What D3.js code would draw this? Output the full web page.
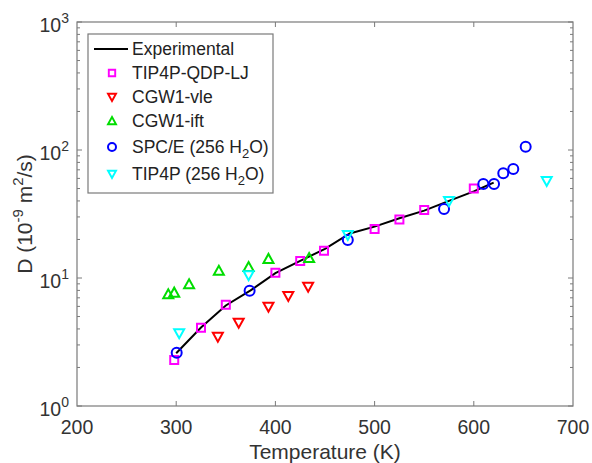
<!DOCTYPE html>
<html>
<head>
<meta charset="utf-8">
<script src="https://cdn.jsdelivr.net/npm/d3@7"></script>
<style>
  body { margin: 0; background: #fff; }
  text { font-family: "Liberation Sans", Arial, sans-serif; }
</style>
</head>
<body>
<div id="chart"></div>
<script>
// Data
var expT = [300, 325, 350, 375, 400, 425, 450, 475, 500, 525, 550, 575, 600, 620];
var expD = [2.58, 4.1, 6.1, 8.0, 10.9, 13.6, 16.9, 22.3, 25.2, 29.3, 33.6, 40, 47.5, 55.6];

var qdpT = [298, 325, 350, 400, 425, 449, 500, 525, 550, 600];
var qdpD = [2.29, 4.09, 6.19, 11.0, 13.6, 16.3, 24.1, 28.7, 34, 50];

var vleT = [342, 363, 393, 413, 433];
var vleD = [3.48, 4.48, 5.97, 7.23, 8.55];

var iftT = [292, 298, 313, 343, 373, 393, 434];
var iftD = [7.46, 7.68, 8.93, 11.4, 12.2, 14.1, 14.3];

var spceT = [300.5, 374, 473, 570, 609.6, 620.4, 629.7, 639.8, 652.3];
var spceD = [2.61, 7.96, 19.8, 34.6, 54.3, 54.3, 65.8, 71.1, 106];

var tip4pT = [303, 373, 473, 575, 673.5];
var tip4pD = [3.70, 10.5, 21.7, 40, 57.3];

var xTicks = [200, 300, 400, 500, 600, 700];
var yTicks = [1, 10, 100, 1000];
var yExp = ["0", "1", "2", "3"];

var width = 592, height = 463;
var plotLeft = 77, plotRight = 573, plotTop = 22, plotBottom = 406;
var axisColor = "#7a7a7a";
var textColor = "#333";

var svg = d3.select("#chart").append("svg")
    .attr("width", width)
    .attr("height", height);

var x = d3.scaleLinear().domain([200, 700]).range([plotLeft, plotRight]);
var y = d3.scaleLog().domain([1, 1000]).range([plotBottom, plotTop]);

// minor ticks on log axis
var minor = [];
[1, 10, 100].forEach(function(b) {
  for (var k = 2; k <= 9; k++) minor.push(b * k);
});

var g = svg.append("g");

// x ticks (bottom + top, inside)
xTicks.slice(1, -1).forEach(function(t) {
  g.append("line").attr("x1", x(t)).attr("x2", x(t))
    .attr("y1", plotBottom).attr("y2", plotBottom - 5)
    .attr("stroke", axisColor);
  g.append("line").attr("x1", x(t)).attr("x2", x(t))
    .attr("y1", plotTop).attr("y2", plotTop + 5)
    .attr("stroke", axisColor);
});

// y ticks (left + right, inside)
yTicks.forEach(function(t) {
  g.append("line").attr("x1", plotLeft).attr("x2", plotLeft + 5)
    .attr("y1", y(t)).attr("y2", y(t)).attr("stroke", axisColor);
  g.append("line").attr("x1", plotRight).attr("x2", plotRight - 5)
    .attr("y1", y(t)).attr("y2", y(t)).attr("stroke", axisColor);
});
minor.forEach(function(t) {
  g.append("line").attr("x1", plotLeft).attr("x2", plotLeft + 3)
    .attr("y1", y(t)).attr("y2", y(t)).attr("stroke", axisColor);
  g.append("line").attr("x1", plotRight).attr("x2", plotRight - 3)
    .attr("y1", y(t)).attr("y2", y(t)).attr("stroke", axisColor);
});

// box
g.append("rect")
  .attr("x", plotLeft).attr("y", plotTop)
  .attr("width", plotRight - plotLeft).attr("height", plotBottom - plotTop)
  .attr("fill", "none").attr("stroke", axisColor).attr("stroke-width", 1.2);

// x tick labels
xTicks.forEach(function(t) {
  svg.append("text")
    .attr("x", x(t)).attr("y", plotBottom + 28)
    .attr("text-anchor", "middle")
    .attr("font-size", 19.5)
    .attr("fill", textColor)
    .text(t);
});

// y tick labels
yTicks.forEach(function(t, i) {
  var tx = svg.append("text")
    .attr("x", 69).attr("y", y(t) + 9.5)
    .attr("text-anchor", "end")
    .attr("font-size", 19.5)
    .attr("fill", textColor);
  tx.append("tspan").text("10");
  tx.append("tspan").attr("dy", -9).attr("font-size", 14).text(yExp[i]);
});

// axis labels
svg.append("text")
  .attr("x", (plotLeft + plotRight) / 2).attr("y", 459)
  .attr("text-anchor", "middle")
  .attr("font-size", 21)
  .attr("fill", textColor)
  .text("Temperature (K)");

var yl = svg.append("text")
  .attr("transform", "translate(32," + ((plotTop + plotBottom) / 2) + ") rotate(-90)")
  .attr("text-anchor", "middle")
  .attr("font-size", 21)
  .attr("fill", textColor);
yl.append("tspan").text("D (10");
yl.append("tspan").attr("dy", -9).attr("font-size", 15).text("-9");
yl.append("tspan").attr("dy", 9).text(" m");
yl.append("tspan").attr("dy", -9).attr("font-size", 15).text("2");
yl.append("tspan").attr("dy", 9).text("/s)");

// experimental line
var line = d3.line()
  .x(function(d) { return x(d[0]); })
  .y(function(d) { return y(d[1]); });

svg.append("path")
  .datum(d3.zip(expT, expD))
  .attr("d", line)
  .attr("fill", "none")
  .attr("stroke", "#000")
  .attr("stroke-width", 2);

// marker shapes
function markerPath(type) {
  if (type == "square") return "M-4,-4H4V4H-4Z";
  if (type == "down") return "M-5,-4H5L0,5Z";
  if (type == "up") return "M-5,4H5L0,-5Z";
  return null;
}

function drawMarkers(T, D, type, color) {
  var pts = d3.zip(T, D);
  if (type == "circle") {
    svg.selectAll(null).data(pts).enter().append("circle")
      .attr("cx", function(d) { return x(d[0]); })
      .attr("cy", function(d) { return y(d[1]); })
      .attr("r", 5)
      .attr("fill", "none")
      .attr("stroke", color)
      .attr("stroke-width", 2);
  } else {
    svg.selectAll(null).data(pts).enter().append("path")
      .attr("d", markerPath(type))
      .attr("transform", function(d) { return "translate(" + x(d[0]) + "," + y(d[1]) + ")"; })
      .attr("fill", "none")
      .attr("stroke", color)
      .attr("stroke-width", 2)
      .attr("stroke-linejoin", "miter");
  }
}

var series = [
  {name: "TIP4P-QDP-LJ", T: qdpT, D: qdpD, type: "square", color: "#ff00ff"},
  {name: "CGW1-vle", T: vleT, D: vleD, type: "down", color: "#ff0000"},
  {name: "CGW1-ift", T: iftT, D: iftD, type: "up", color: "#00dd00"},
  {name: "SPC/E (256 H|2|O)", T: spceT, D: spceD, type: "circle", color: "#0000ff"},
  {name: "TIP4P (256 H|2|O)", T: tip4pT, D: tip4pD, type: "down", color: "#00ffff"}
];

series.forEach(function(s) { drawMarkers(s.T, s.D, s.type, s.color); });

// legend
var legend = svg.append("g");
legend.append("rect")
  .attr("x", 88).attr("y", 34)
  .attr("width", 185).attr("height", 159)
  .attr("fill", "#fff")
  .attr("stroke", axisColor)
  .attr("stroke-width", 1.2);

var rowY = [49, 73, 97, 121, 147, 174];

legend.append("line")
  .attr("x1", 94).attr("x2", 128)
  .attr("y1", rowY[0]).attr("y2", rowY[0])
  .attr("stroke", "#000").attr("stroke-width", 2);
legend.append("text")
  .attr("x", 132).attr("y", rowY[0] + 6)
  .attr("font-size", 17.5).attr("fill", "#222")
  .text("Experimental");

series.forEach(function(s, i) {
  var cy = rowY[i + 1];
  if (s.type == "circle") {
    legend.append("circle").attr("cx", 112).attr("cy", cy).attr("r", 4)
      .attr("fill", "none").attr("stroke", s.color).attr("stroke-width", 2);
  } else {
    legend.append("path").attr("d", markerPath(s.type))
      .attr("transform", "translate(112," + cy + ") scale(0.8)")
      .attr("fill", "none").attr("stroke", s.color).attr("stroke-width", 2.4);
  }
  var parts = s.name.split("|");
  var t = legend.append("text")
    .attr("x", 132).attr("y", cy + 6)
    .attr("font-size", 17.5).attr("fill", "#222");
  t.append("tspan").text(parts[0]);
  if (parts.length > 1) {
    t.append("tspan").attr("dy", 5).attr("font-size", 13).text(parts[1]);
    t.append("tspan").attr("dy", -5).text(parts[2]);
  }
});
</script>
</body>
</html>
